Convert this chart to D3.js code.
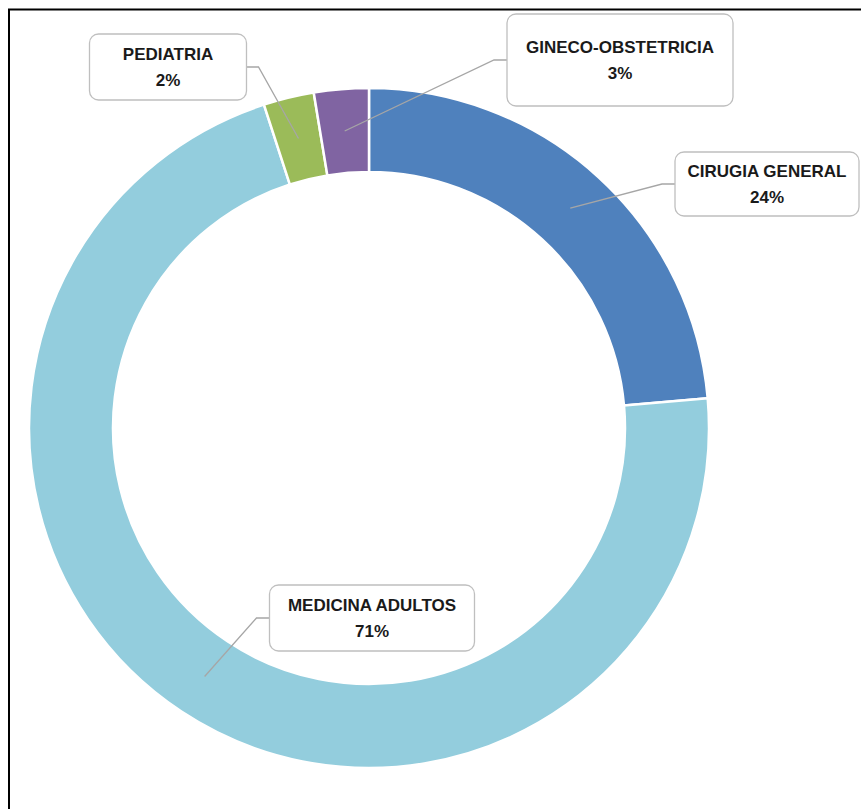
<!DOCTYPE html>
<html>
<head>
<meta charset="utf-8">
<script src="https://cdn.jsdelivr.net/npm/d3@7"></script>
<style>
  html, body { margin: 0; padding: 0; background: #fff; }
  svg { display: block; }
</style>
</head>
<body>
<script>
// ---- data ----
const categories = ["CIRUGIA GENERAL", "MEDICINA ADULTOS", "PEDIATRIA", "GINECO-OBSTETRICIA"];
const values = [23.6, 71.4, 2.4, 2.6];
const colors = ["#4F81BD", "#93CDDD", "#9BBB59", "#8064A2"];
// label box centers (layout)
const labelBoxes = [
  { cx: 767, cy: 184, w: 184, h: 64 },
  { cx: 372, cy: 618, w: 205, h: 66 },
  { cx: 168, cy: 67, w: 157, h: 66 },
  { cx: 620, cy: 60, w: 226, h: 92 }
];

const W = 861, H = 809;
const cx = 369, cy = 428, R = 340, r = 256;

const svg = d3.select("body").append("svg").attr("width", W).attr("height", H);

// frame (extends past right and bottom)
svg.append("path")
  .attr("d", `M9,${H + 5} L9,9.5 L${W + 5},9.5`)
  .attr("fill", "none").attr("stroke", "#000").attr("stroke-width", 2);

const total = d3.sum(values);
const pie = d3.pie().sort(null).value(d => d.v);
const data = pie(categories.map((c, i) => ({ c, v: values[i], i })));
const arc = d3.arc().innerRadius(r).outerRadius(R);
const mid = d3.arc().innerRadius((R + r) / 2).outerRadius((R + r) / 2);

const g = svg.append("g").attr("transform", `translate(${cx},${cy})`);
g.selectAll("path.slice").data(data).enter().append("path")
  .attr("class", "slice")
  .attr("d", arc)
  .attr("fill", d => colors[d.data.i])
  .attr("stroke", "#fff").attr("stroke-width", 2.5).attr("stroke-linejoin", "round");

// leader lines + label boxes
data.forEach(d => {
  const b = labelBoxes[d.data.i];
  const [ax, ay] = mid.centroid(d);
  const px = cx + ax, py = cy + ay;
  const left = px < b.cx - b.w / 2;
  const ex = left ? b.cx - b.w / 2 : b.cx + b.w / 2;
  const kx = left ? ex - 13 : ex + 12;
  svg.append("polyline")
    .attr("points", `${px},${py} ${kx},${b.cy} ${ex},${b.cy}`)
    .attr("fill", "none").attr("stroke", "#A6A6A6").attr("stroke-width", 1.3);
});

data.forEach(d => {
  const b = labelBoxes[d.data.i];
  svg.append("rect")
    .attr("x", b.cx - b.w / 2).attr("y", b.cy - b.h / 2)
    .attr("width", b.w).attr("height", b.h)
    .attr("rx", 9).attr("ry", 9)
    .attr("fill", "#fff").attr("stroke", "#BFBFBF").attr("stroke-width", 1.3);
  const t = svg.append("text")
    .attr("x", b.cx).attr("y", b.cy)
    .attr("text-anchor", "middle")
    .attr("font-family", "'Liberation Sans Narrow', 'Liberation Sans', Arial, sans-serif")
    .attr("font-weight", "bold").attr("font-size", 17).attr("fill", "#1a1a1a");
  t.append("tspan").attr("x", b.cx).attr("dy", -7).text(d.data.c);
  t.append("tspan").attr("x", b.cx).attr("dy", 26).text(Math.round(d.data.v / total * 100) + "%");
});
</script>
</body>
</html>
